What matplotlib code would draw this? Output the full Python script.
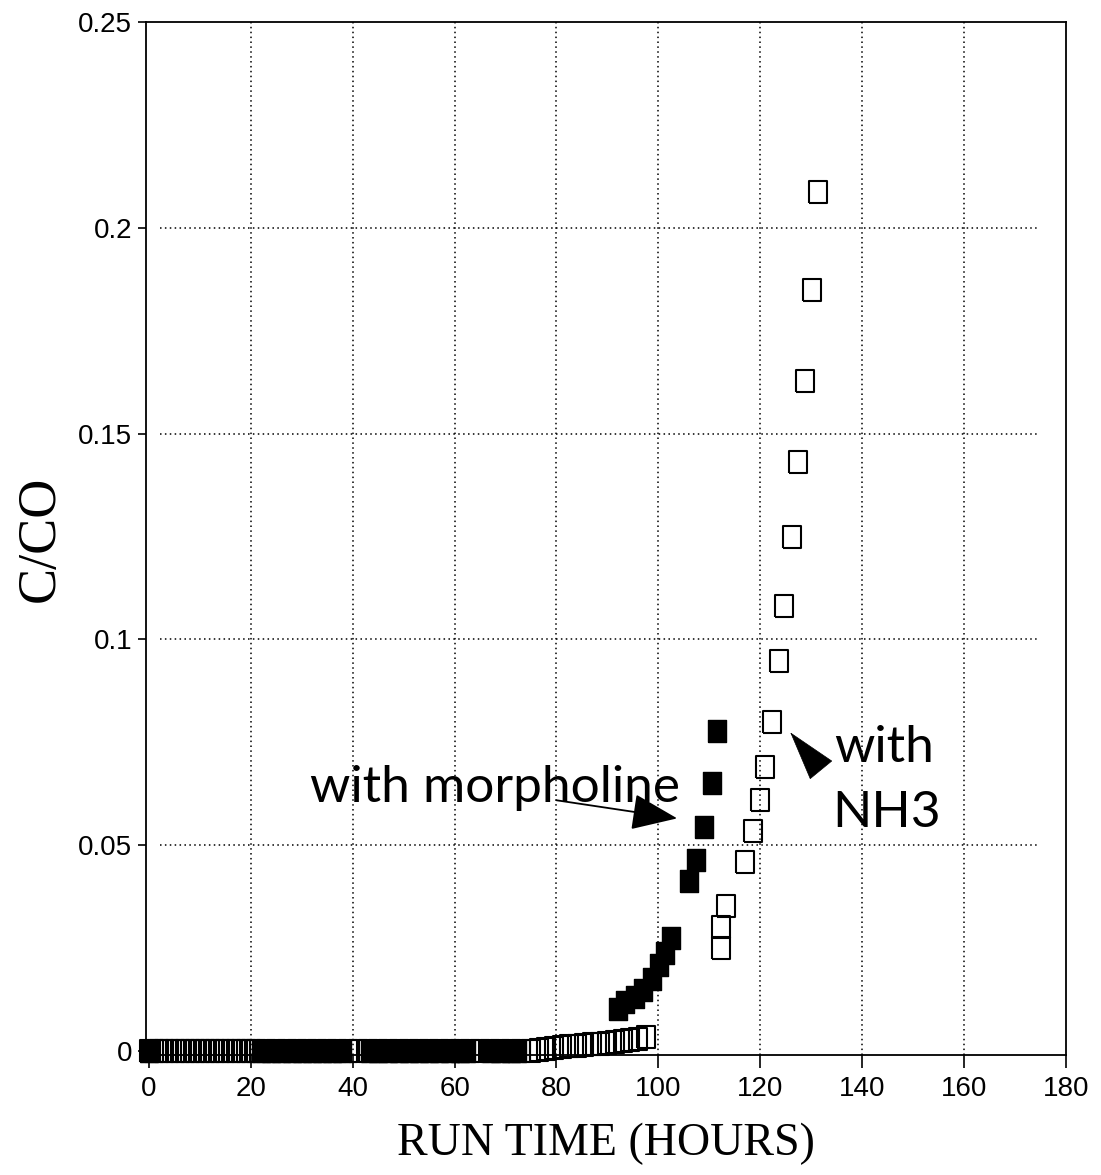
import matplotlib.pyplot as plt

# run time (hours) and C/C0
nh3_time = [0, 1, 2, 3, 4, 5, 6, 7, 8, 9, 10, 11, 12, 13, 14, 15, 16, 17, 18, 19, 20, 21,
            23, 25, 27, 29, 31, 33, 35, 37, 39, 41, 43, 45, 47, 49, 51, 53, 55, 57, 59,
            61, 63, 65, 67, 69, 71, 73,
            75, 76.5, 78, 79.5, 81, 82.5, 84, 85.5, 87, 88.5, 90, 91.5, 93, 94.5, 96, 97.5,
            112.4, 112.4, 113.3, 117.0, 118.6, 120.0, 121.0, 122.4,
            123.7, 124.7, 126.3, 127.5, 128.8, 130.2, 131.4]
nh3_cc0 = [0] * 22 + [0] * 26 + \
          [0.0001, 0.0003, 0.0005, 0.0007, 0.0009, 0.0011, 0.0013, 0.0015, 0.0016, 0.0017,
           0.0019, 0.0021, 0.0023, 0.0026, 0.0030, 0.0033,
           0.0251, 0.0300, 0.0353, 0.0459, 0.0534, 0.0609, 0.0690, 0.0800,
           0.0948, 0.1080, 0.1249, 0.1431, 0.1628, 0.1848, 0.2088]

morph_time = [0, 22, 24, 26, 28, 30, 32, 34, 36, 37.8,
              43.4, 45, 47, 49, 51, 53, 55, 57, 59, 61, 62.2,
              67.1, 69, 71, 72.2,
              92.0, 93.5, 95.5, 96.9, 98.8, 100.2, 101.4, 102.5,
              106.0, 107.4, 109.0, 110.6, 111.6]
morph_cc0 = [0] * 25 + \
            [0.0101, 0.0118, 0.0130, 0.0147, 0.0174, 0.0208, 0.0239, 0.0275,
             0.0413, 0.0464, 0.0543, 0.0650, 0.0778]

x_ticks = [0, 20, 40, 60, 80, 100, 120, 140, 160, 180]
y_ticks = [0, 0.05, 0.1, 0.15, 0.2, 0.25]
y_tick_labels = ['0', '0.05', '0.1', '0.15', '0.2', '0.25']
x_grid = [20, 40, 60, 80, 100, 120, 140, 160]
y_grid = [0.05, 0.1, 0.15, 0.2]

# slightly tall rectangle, like the plotter's squares
box = [(-0.8, -1), (0.8, -1), (0.8, 1), (-0.8, 1), (-0.8, -1)]

fig = plt.figure(figsize=(11.01, 11.75), dpi=100)
ax = fig.add_axes([0.1326, 0.1021, 0.8354, 0.8792])

for gx in x_grid:
    ax.axvline(gx, color='black', linestyle=(0, (1, 2.2)), linewidth=1.1, zorder=1)
for gy in y_grid:
    ax.axhline(gy, xmin=0.015, xmax=0.97, color='black',
               linestyle=(0, (1, 2.2)), linewidth=1.1, zorder=1)

ax.plot(nh3_time, nh3_cc0, linestyle='none', marker=box, markersize=16.5,
        markerfacecolor='none', markeredgecolor='black', markeredgewidth=1.5,
        clip_on=False, zorder=3)
ax.plot(morph_time, morph_cc0, linestyle='none', marker=box, markersize=16.5,
        markerfacecolor='black', markeredgecolor='black', markeredgewidth=1.0,
        clip_on=False, zorder=4)

ax.set_xlim(-0.6, 180)
ax.set_ylim(-0.001, 0.25)
ax.set_xticks(x_ticks)
ax.set_yticks(y_ticks)
ax.set_yticklabels(y_tick_labels)

for s in ax.spines.values():
    s.set_linewidth(1.3)
ax.tick_params(axis='x', direction='out', length=9, width=1.2, pad=6,
               labelsize=20)
ax.tick_params(axis='y', direction='out', length=6, width=1.2, pad=4,
               labelsize=20)
for lab in ax.get_xticklabels() + ax.get_yticklabels():
    lab.set_fontfamily('Liberation Sans')

ax.set_xlabel('RUN TIME (HOURS)', fontsize=33, family='Liberation Serif',
              labelpad=15)
ax.set_ylabel('C/CO', fontsize=39, family='Liberation Serif', labelpad=9)

note_font = dict(fontsize=37, family='Lato', fontweight='normal')
ax.text(31.6, 0.0604, 'with morpholine', ha='left', va='baseline', **note_font)
ax.annotate('', xy=(103.7, 0.0565), xytext=(80.0, 0.0609),
            arrowprops=dict(arrowstyle='-|>,head_length=2.9,head_width=1.15',
                            mutation_scale=10, color='black', lw=1.3,
                            shrinkA=0, shrinkB=0))
ax.annotate('', xy=(125.9, 0.0774), xytext=(131.6, 0.0688),
            arrowprops=dict(arrowstyle='-|>,head_length=3.4,head_width=1.0',
                            mutation_scale=10, color='black', lw=0.5,
                            shrinkA=0, shrinkB=0))
ax.text(134.6, 0.0702, 'with', ha='left', va='baseline', **note_font)
ax.text(134.2, 0.0545, 'NH3', ha='left', va='baseline', **note_font)

plt.savefig('out.png', dpi=100)
